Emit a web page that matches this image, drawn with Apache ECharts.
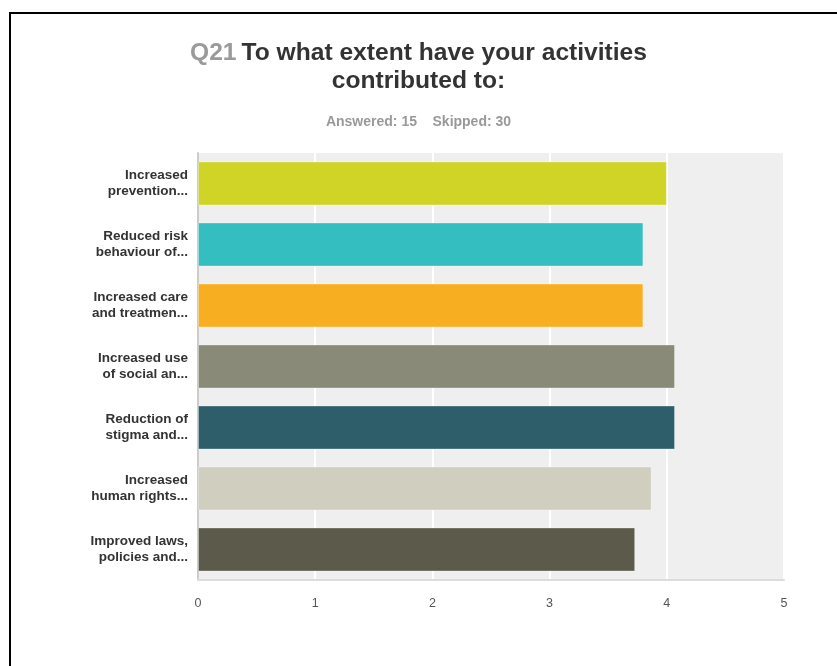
<!DOCTYPE html>
<html>
<head>
<meta charset="utf-8">
<script src="https://cdn.jsdelivr.net/npm/echarts@6/dist/echarts.min.js"></script>
<style>
  html, body { margin: 0; padding: 0; background: #fff; overflow: hidden; }
  #wrap { position: relative; width: 837px; height: 666px; overflow: hidden; }
  #chart { position: absolute; left: 0; top: 0; width: 837px; height: 666px; }
  #frame { position: absolute; left: 9px; top: 12px; width: 900px; height: 800px;
           border: 2px solid #000; pointer-events: none; }
</style>
</head>
<body>
<div id="wrap">
  <div id="chart"></div>
  <div id="frame"></div>
</div>
<script>
// Survey question Q21: weighted average per statement (scale 0-5)
const categories = [
  'Increased\nprevention...',
  'Reduced risk\nbehaviour of...',
  'Increased care\nand treatmen...',
  'Increased use\nof social an...',
  'Reduction of\nstigma and...',
  'Increased\nhuman rights...',
  'Improved laws,\npolicies and...'
];
const averages = [4.00, 3.80, 3.80, 4.07, 4.07, 3.87, 3.73];
const barColors = ['#CFD427', '#34BEC0', '#F7AE20', '#8A8A78', '#2E5E6A', '#CFCEBF', '#5C5A4B'];
const xTicks = [0, 1, 2, 3, 4, 5];

const FONT = 'Liberation Sans, Arial, sans-serif';
const chart = echarts.init(document.getElementById('chart'), null, { renderer: 'canvas' });

chart.setOption({
  backgroundColor: '#ffffff',
  animation: false,
  title: [
    {
      left: 'center',
      top: 34,
      text: '{q|Q21} {t|To what extent have your activities}\n{t|contributed to:}',
      textStyle: {
        lineHeight: 28,
        rich: {
          q: { fontFamily: FONT, fontSize: 24.6, color: '#9a9a9a', fontWeight: 'bold', lineHeight: 28 },
          t: { fontFamily: FONT, fontSize: 24.6, color: '#333333', fontWeight: 'bold', lineHeight: 28 }
        }
      }
    },
    {
      left: 'center',
      top: 110,
      text: 'Answered: 15    Skipped: 30',
      textStyle: { fontFamily: FONT, fontSize: 14, color: '#999999', fontWeight: 'bold' }
    }
  ],
  grid: { left: 198, right: 53, top: 153, bottom: 86, containLabel: false,
          show: true, backgroundColor: '#efefef', borderWidth: 0 },
  xAxis: {
    type: 'value',
    min: xTicks[0],
    max: xTicks[xTicks.length - 1],
    interval: 1,
    axisLine: { show: true, lineStyle: { color: '#dcdcdc', width: 2 } },
    axisTick: { show: false },
    splitLine: { show: true, lineStyle: { color: '#ffffff', width: 2 } },
    axisLabel: { color: '#555555', fontSize: 12.5, margin: 17, fontFamily: FONT }
  },
  yAxis: {
    type: 'category',
    inverse: true,
    data: categories,
    axisLine: { show: true, lineStyle: { color: '#cccccc', width: 2 } },
    axisTick: { show: false },
    axisLabel: { color: '#333333', fontSize: 13.5, fontWeight: 'bold', lineHeight: 16,
                 margin: 10, align: 'right', fontFamily: FONT }
  },
  series: [{
    type: 'bar',
    data: averages.map((v, i) => ({ value: v, itemStyle: { color: barColors[i] } })),
    barCategoryGap: '28%',
    itemStyle: { borderColor: 'rgba(255,255,255,0.3)', borderWidth: 1 }
  }]
});
</script>
</body>
</html>
